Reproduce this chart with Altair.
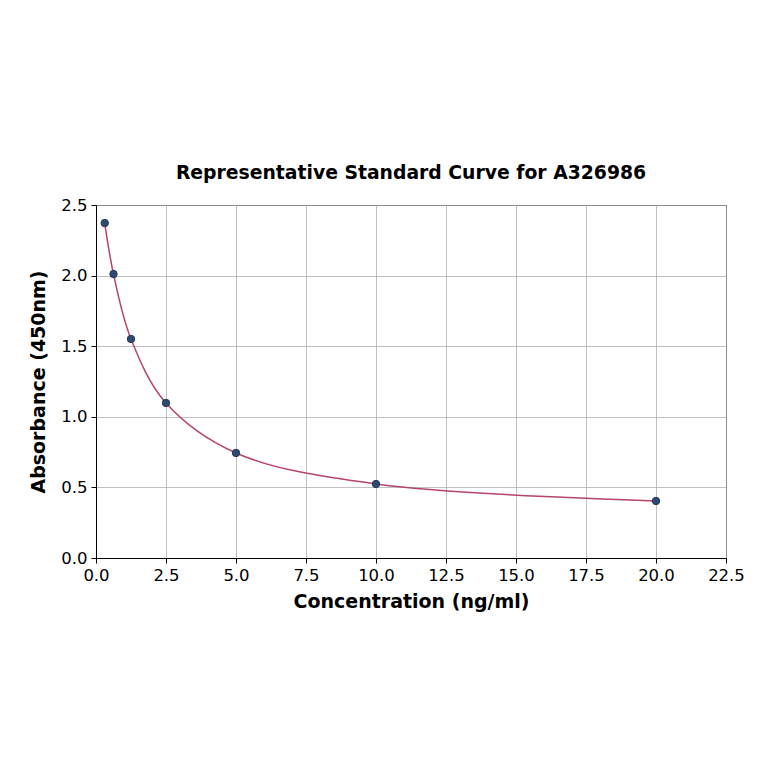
import altair as alt
import pandas as pd

concentration = [0.3125, 0.625, 1.25, 2.5, 5.0, 10.0, 20.0]
absorbance = [2.372, 2.011, 1.551, 1.098, 0.744, 0.524, 0.404]
x_ticks = [0.0, 2.5, 5.0, 7.5, 10.0, 12.5, 15.0, 17.5, 20.0, 22.5]
y_ticks = [0.0, 0.5, 1.0, 1.5, 2.0, 2.5]

FONT = "DejaVu Sans"

df = pd.DataFrame({"conc": concentration, "od": absorbance})

x_enc = alt.X(
    "conc:Q",
    title="Concentration (ng/ml)",
    scale=alt.Scale(domain=[0, 22.5], nice=False, zero=False),
    axis=alt.Axis(values=x_ticks, format=".1f"),
)
y_enc = alt.Y(
    "od:Q",
    title="Absorbance (450nm)",
    scale=alt.Scale(domain=[0, 2.5], nice=False),
    axis=alt.Axis(values=y_ticks, format=".1f"),
)

curve = (
    alt.Chart(df)
    .mark_line(color="#b5456a", strokeWidth=1.5, interpolate="catmull-rom")
    .encode(x=x_enc, y=y_enc)
)

points = (
    alt.Chart(df)
    .mark_circle(color="#2e4a6e", size=55, opacity=1, stroke="#24385a", strokeWidth=1)
    .encode(x=x_enc, y=y_enc)
)

chart = (
    alt.layer(curve, points)
    .properties(
        title=alt.Title(
            "Representative Standard Curve for A326986",
            font=FONT,
            fontSize=18.8,
            fontWeight="bold",
            color="black",
            offset=14,
        ),
        width=630,
        height=353,
        autosize=alt.AutoSizeParams(type="none"),
        padding={"left": 88, "top": 197, "right": 30, "bottom": 190},
    )
    .configure_view(stroke="black", strokeWidth=1)
    .configure_axis(
        labelFont=FONT,
        titleFont=FONT,
        labelFontSize=16.5,
        titleFontSize=19,
        titleFontWeight="bold",
        labelColor="black",
        titleColor="black",
        domainColor="black",
        tickColor="black",
        tickSize=5,
        labelFlush=False,
        labelOverlap=False,
        grid=True,
        gridColor="#b0b0b0",
        gridWidth=0.8,
    )
    .configure_axisX(titlePadding=9, labelPadding=4)
    .configure_axisY(titlePadding=12, labelPadding=4)
)

chart.save("out.html", embed_options={"renderer": "svg", "actions": False})
